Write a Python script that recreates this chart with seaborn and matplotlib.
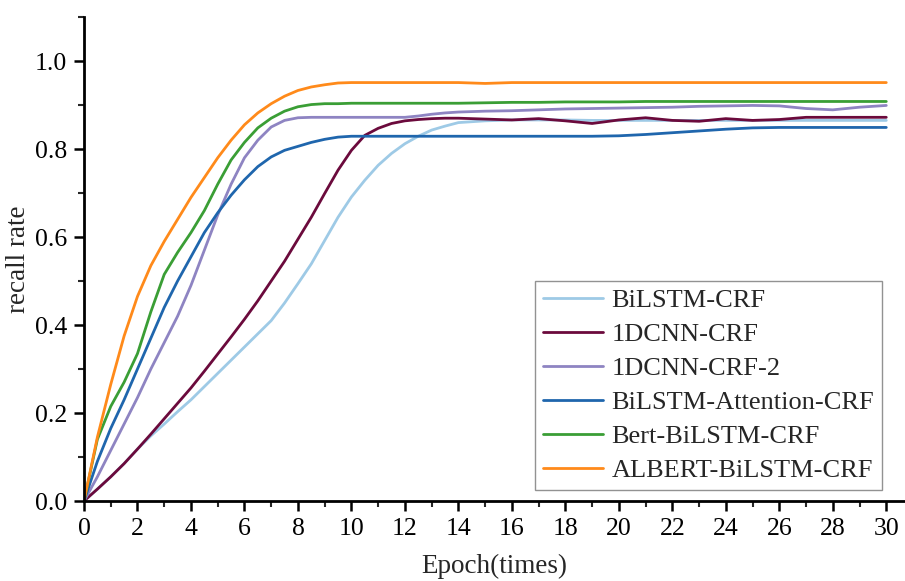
import matplotlib
matplotlib.use('Agg')
import matplotlib.pyplot as plt
from matplotlib.ticker import MultipleLocator
import seaborn as sns
import pandas as pd

# epochs: half steps up to 14, then whole steps
epochs = [0, 0.5, 1, 1.5, 2, 2.5, 3, 3.5, 4, 4.5, 5, 5.5, 6, 6.5, 7, 7.5, 8, 8.5, 9, 9.5,
          10, 10.5, 11, 11.5, 12, 12.5, 13, 13.5, 14,
          15, 16, 17, 18, 19, 20, 21, 22, 23, 24, 25, 26, 27, 28, 29, 30]

models = ['BiLSTM-CRF', '1DCNN-CRF', '1DCNN-CRF-2', 'BiLSTM-Attention-CRF',
          'Bert-BiLSTM-CRF', 'ALBERT-BiLSTM-CRF']
colors = ['#9ecae6', '#6b0a3c', '#8e84c2', '#1f66ad', '#3a9e35', '#ff8a1a']

bilstm_crf = [0, 0.027, 0.055, 0.085, 0.118, 0.148, 0.175, 0.203, 0.23, 0.26, 0.29, 0.32,
              0.35, 0.38, 0.41, 0.45, 0.494, 0.539, 0.592, 0.645, 0.691, 0.729, 0.763, 0.79,
              0.812, 0.829, 0.843, 0.852, 0.86,
              0.864, 0.866, 0.866, 0.866, 0.865, 0.865, 0.865, 0.865, 0.865, 0.865, 0.865,
              0.865, 0.865, 0.865, 0.865, 0.865]
cnn_crf = [0, 0.027, 0.055, 0.085, 0.118, 0.152, 0.187, 0.222, 0.257, 0.295, 0.334, 0.373,
           0.413, 0.455, 0.50, 0.545, 0.595, 0.645, 0.699, 0.752, 0.797, 0.831, 0.847, 0.858,
           0.864, 0.867, 0.869, 0.87, 0.87,
           0.868, 0.866, 0.869, 0.864, 0.858, 0.866, 0.871, 0.865, 0.863, 0.869, 0.865,
           0.867, 0.872, 0.872, 0.872, 0.872]
cnn_crf_2 = [0, 0.055, 0.115, 0.175, 0.235, 0.30, 0.36, 0.42, 0.49, 0.57, 0.65, 0.72,
             0.78, 0.82, 0.85, 0.865, 0.871, 0.872, 0.872, 0.872, 0.872, 0.872, 0.872, 0.872,
             0.872, 0.875, 0.879, 0.882, 0.884,
             0.886, 0.887, 0.889, 0.891, 0.892, 0.893, 0.894, 0.895, 0.897, 0.898, 0.899,
             0.898, 0.892, 0.889, 0.895, 0.899]
bilstm_att = [0, 0.09, 0.165, 0.23, 0.30, 0.37, 0.44, 0.50, 0.555, 0.61, 0.655, 0.695,
              0.73, 0.76, 0.782, 0.797, 0.806, 0.815, 0.822, 0.827, 0.829, 0.829, 0.829, 0.829,
              0.829, 0.829, 0.829, 0.829, 0.829,
              0.829, 0.829, 0.829, 0.829, 0.829, 0.830, 0.833, 0.837, 0.841, 0.845, 0.848,
              0.849, 0.849, 0.849, 0.849, 0.849]
bert = [0, 0.14, 0.215, 0.27, 0.335, 0.43, 0.515, 0.565, 0.61, 0.66, 0.72, 0.775,
        0.815, 0.848, 0.87, 0.886, 0.896, 0.901, 0.903, 0.903, 0.904, 0.904, 0.904, 0.904,
        0.904, 0.904, 0.904, 0.904, 0.904,
        0.905, 0.906, 0.906, 0.907, 0.907, 0.907, 0.908, 0.908, 0.908, 0.908, 0.908,
        0.908, 0.908, 0.908, 0.908, 0.908]
albert = [0, 0.145, 0.265, 0.375, 0.465, 0.535, 0.59, 0.64, 0.69, 0.735, 0.78, 0.82,
          0.855, 0.882, 0.903, 0.92, 0.933, 0.941, 0.946, 0.95, 0.951, 0.951, 0.951, 0.951,
          0.951, 0.951, 0.951, 0.951, 0.951,
          0.949, 0.951, 0.951, 0.951, 0.951, 0.951, 0.951, 0.951, 0.951, 0.951, 0.951,
          0.951, 0.951, 0.951, 0.951, 0.951]

series = [bilstm_crf, cnn_crf, cnn_crf_2, bilstm_att, bert, albert]
frames = [pd.DataFrame({'Epoch': epochs, 'recall': s, 'model': m}) for m, s in zip(models, series)]
df = pd.concat(frames, ignore_index=True)

sns.set_style('ticks')
plt.rcParams['font.family'] = ['Liberation Serif', 'DejaVu Serif']

fig = plt.figure(figsize=(9.05, 5.81), dpi=100)
ax = fig.add_axes([84 / 905, 80 / 581, 821 / 905, 484 / 581])

sns.lineplot(data=df, x='Epoch', y='recall', hue='model', hue_order=models,
             palette=colors, linewidth=2, ax=ax)

ax.set_xlim(0, 30.7)
ax.set_ylim(0, 1.1)
ax.xaxis.set_major_locator(MultipleLocator(2))
ax.xaxis.set_minor_locator(MultipleLocator(1))
ax.yaxis.set_minor_locator(MultipleLocator(0.1))
ax.set_yticks([0, 0.2, 0.4, 0.6, 0.8, 1.0])
ax.set_yticklabels(['0.0', '0.2', '0.4', '0.6', '0.8', '1.0'])
ax.tick_params(which='major', length=7, width=1.8, labelsize=18.5, colors='black', pad=5)
ax.tick_params(which='minor', length=4, width=1.5)
sns.despine(ax=ax)
for sp in ('left', 'bottom'):
    ax.spines[sp].set_linewidth(2)
    ax.spines[sp].set_color('black')

ax.set_xlabel('Epoch(times)', fontsize=19.5, labelpad=10)
ax.set_ylabel('recall rate', fontsize=19.5, labelpad=3)

leg = ax.legend(loc='lower right', bbox_to_anchor=(0.972, 0.022), fontsize=19,
                frameon=True, fancybox=False, handlelength=2.3, labelspacing=0.4,
                borderpad=0.3, handletextpad=0.3, borderaxespad=0)
leg.get_frame().set_edgecolor('#777777')
leg.get_frame().set_linewidth(1)

fig.savefig('out.png', dpi=100)
